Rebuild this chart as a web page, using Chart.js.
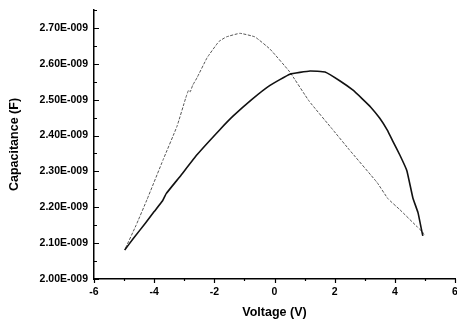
<!DOCTYPE html>
<html>
<head>
<meta charset="utf-8">
<script src="https://cdn.jsdelivr.net/npm/chart.js@4/dist/chart.umd.min.js"></script>
<style>
  html, body { margin: 0; padding: 0; background: #fff; }
  #wrap { width: 457px; height: 322px; }
</style>
</head>
<body>
<div id="wrap"><canvas id="cv"></canvas></div>
<script>
// capacitance values are in units of 1E-009 F
const upVoltage = [-4.98, -4.7, -4.3, -4.0, -3.72, -3.6, -3.14, -2.57, -1.81, -1.38, -0.75, -0.15, 0.51, 1.18, 1.68, 2.18, 2.6, 2.91, 3.2, 3.5, 3.75, 3.94, 4.17, 4.4, 4.6, 4.77, 4.9, 4.93];
const upCap = [2.081, 2.112, 2.155, 2.188, 2.218, 2.238, 2.286, 2.347, 2.417, 2.454, 2.501, 2.54, 2.571, 2.58, 2.577, 2.552, 2.527, 2.503, 2.479, 2.448, 2.415, 2.383, 2.345, 2.302, 2.226, 2.185, 2.132, 2.12];

const downVoltage = [4.97, 4.93, 4.75, 4.17, 3.77, 3.41, 2.48, 1.93, 1.15, 0.51, -0.15, -0.65, -1.15, -1.6, -1.85, -2.24, -2.57, -2.72, -2.8, -2.86, -2.95, -3.24, -3.7, -4.24, -4.6, -4.98];
const downCap = [2.124, 2.13, 2.145, 2.193, 2.224, 2.269, 2.361, 2.417, 2.496, 2.577, 2.641, 2.675, 2.685, 2.675, 2.662, 2.617, 2.562, 2.54, 2.522, 2.526, 2.505, 2.426, 2.333, 2.221, 2.15, 2.081];

const xTicks = [-6, -4, -2, 0, 2, 4, 6];
const yTicks = [2.0, 2.1, 2.2, 2.3, 2.4, 2.5, 2.6, 2.7];

const toPoints = (xs, ys) => xs.map((x, i) => ({ x: x, y: ys[i] }));

// tick marks: y inward, x outward, with minor ticks in between
const tickMarks = {
  id: 'tickMarks',
  afterDraw(chart) {
    const ctx = chart.ctx;
    const xs = chart.scales.x, ys = chart.scales.y;
    ctx.save();
    ctx.strokeStyle = '#000';
    ctx.lineWidth = 1.2;
    ctx.beginPath();
    for (let v = ys.min; v <= ys.max + 1e-6; v += 0.05) {
      const py = Math.round(ys.getPixelForValue(v)) + 0.5;
      const major = Math.round(v * 100) % 10 === 0;
      ctx.moveTo(xs.left, py);
      ctx.lineTo(xs.left + (major ? 5 : 3), py);
    }
    for (let v = xs.min; v <= xs.max + 1e-6; v += 1) {
      const px = Math.round(xs.getPixelForValue(v)) + 0.5;
      const major = Math.round(v) % 2 === 0;
      ctx.moveTo(px, ys.bottom);
      ctx.lineTo(px, ys.bottom + (major ? 4 : 2));
    }
    ctx.stroke();
    ctx.restore();
  }
};

const tickFont = { family: 'Liberation Sans, Arial, sans-serif', size: 10.5, weight: 'bold' };
const titleFont = { family: 'Liberation Sans, Arial, sans-serif', size: 12.5, weight: 'bold' };

new Chart(document.getElementById('cv'), {
  type: 'scatter',
  data: {
    datasets: [{
      label: 'forward',
      data: toPoints(upVoltage, upCap),
      showLine: true,
      borderColor: '#111',
      borderWidth: 1.6,
      pointRadius: 0,
      tension: 0.1
    }, {
      label: 'reverse',
      data: toPoints(downVoltage, downCap),
      showLine: true,
      borderColor: '#555',
      borderWidth: 1,
      borderDash: [3, 1.5],
      pointRadius: 0,
      tension: 0.1
    }]
  },
  options: {
    responsive: true,
    maintainAspectRatio: false,
    animation: false,
    layout: { padding: { top: 10, right: 2, left: 0, bottom: 0 } },
    plugins: { legend: { display: false }, tooltip: { enabled: false } },
    scales: {
      x: {
        type: 'linear',
        min: -6,
        max: 6,
        afterBuildTicks: s => { s.ticks = xTicks.map(v => ({ value: v })); },
        afterFit: s => { s.height = 43; s.paddingLeft = 0; s.paddingRight = 0; },
        grid: { display: false, drawTicks: false },
        border: { display: true, color: '#000', width: 1.5 },
        ticks: { color: '#000', font: tickFont, padding: 7, maxRotation: 0 },
        title: { display: true, text: 'Voltage (V)', color: '#000', font: titleFont, padding: { top: 0, bottom: 1.5 } }
      },
      y: {
        type: 'linear',
        min: 2.0,
        max: 2.75,
        afterBuildTicks: s => { s.ticks = yTicks.map(v => ({ value: v })); },
        afterFit: s => { s.width = 94; s.paddingTop = 0; s.paddingBottom = 0; },
        grid: { display: false, drawTicks: false },
        border: { display: true, color: '#000', width: 1.5 },
        ticks: { color: '#000', font: tickFont, padding: 6, callback: v => v.toFixed(2) + 'E-009' },
        title: { display: true, text: 'Capacitance (F)', color: '#000', font: titleFont, padding: { top: 7, bottom: 0 } }
      }
    }
  },
  plugins: [tickMarks]
});
</script>
</body>
</html>
